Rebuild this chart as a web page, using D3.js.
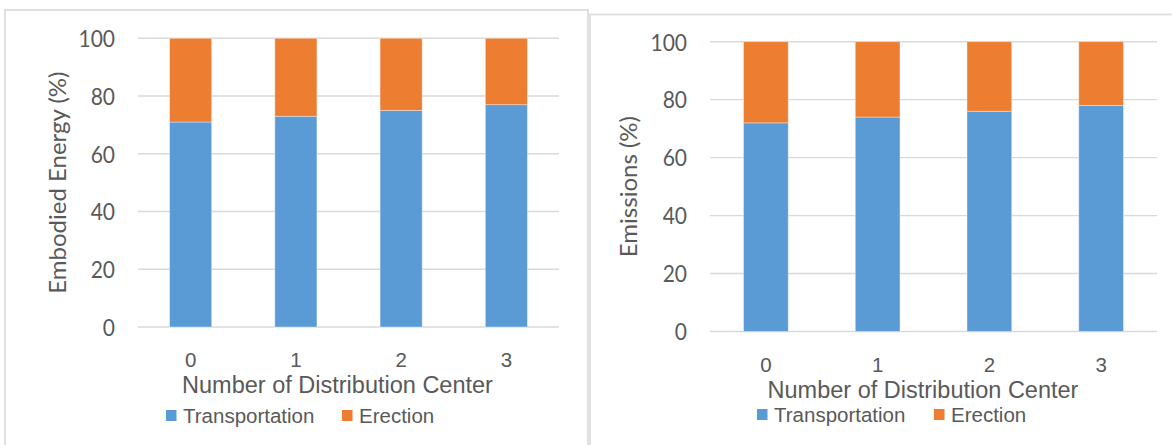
<!DOCTYPE html>
<html>
<head>
<meta charset="utf-8">
<script src="https://cdn.jsdelivr.net/npm/d3@7"></script>
<style>
  html, body { margin: 0; padding: 0; background: #fff; }
  svg { display: block; }
</style>
</head>
<body>
<svg id="chart" width="1172" height="445"></svg>
<script>
// Share of each life-cycle stage by number of distribution centres
const categories = ["0", "1", "2", "3"];
const seriesNames = ["Transportation", "Erection"];
const energyTransportation = [71, 73, 75, 77];
const energyErection = [29, 27, 25, 23];
const emissionsTransportation = [72, 74, 76, 78];
const emissionsErection = [28, 26, 24, 22];
const yTicks = [0, 20, 40, 60, 80, 100];
const xTitle = "Number of Distribution Center";

const colors = ["#5b9bd5", "#ed7d31"];
const textColor = "#595959";
const gridColor = "#d9d9d9";
const yTickStretch = 1.1; // value labels are drawn slightly tall

const svg = d3.select("#chart");

function drawPanel(p) {
  const g = svg.append("g");

  // panel frame
  g.append("rect")
    .attr("x", p.frame[0]).attr("y", p.frame[1])
    .attr("width", p.frame[2]).attr("height", p.frame[3])
    .attr("fill", "#fff").attr("stroke", gridColor).attr("stroke-width", 1.6);

  const x = d3.scaleBand().domain(categories)
    .range([p.plot.x0, p.plot.x1]).paddingInner(0.6).paddingOuter(0.3);
  const y = d3.scaleLinear().domain([0, 100]).range([p.plot.y0, p.plot.y1]);

  // gridlines
  g.append("g").selectAll("line").data(yTicks).join("line")
    .attr("x1", p.plot.x0).attr("x2", p.plot.x1)
    .attr("y1", d => y(d)).attr("y2", d => y(d))
    .attr("stroke", gridColor).attr("stroke-width", 1.4);

  // y axis labels
  const yAxis = d3.axisLeft(y).tickValues(yTicks).tickSize(0).tickPadding(0);
  const ya = g.append("g").attr("transform", `translate(${p.plot.x0 - 23},0)`).call(yAxis);
  ya.select(".domain").remove();
  ya.selectAll("text")
    .attr("fill", textColor).attr("font-family", "Lato, 'Open Sans', sans-serif")
    .attr("font-size", 21).attr("dy", "0.36em")
    .attr("transform", `scale(1,${yTickStretch})`);

  // stacked bars
  const rows = categories.map((c, i) => ({ cat: c, Transportation: p.values[0][i], Erection: p.values[1][i] }));
  const stacked = d3.stack().keys(seriesNames)(rows);
  g.append("g").selectAll("g").data(stacked).join("g")
    .attr("fill", (d, i) => colors[i])
    .selectAll("rect").data(d => d).join("rect")
    .attr("x", d => x(d.data.cat))
    .attr("width", x.bandwidth())
    .attr("y", d => y(d[1]))
    .attr("height", d => y(d[0]) - y(d[1]))
    .attr("stroke", "#ffffff").attr("stroke-opacity", 0.45).attr("stroke-width", 0.8);

  // x axis labels
  const xAxis = d3.axisBottom(x).tickSize(0).tickPadding(0);
  const xa = g.append("g").attr("transform", `translate(0,${p.xTickBaseline})`).call(xAxis);
  xa.select(".domain").remove();
  xa.selectAll("text")
    .attr("fill", textColor).attr("font-family", "'Liberation Sans', Arial, sans-serif")
    .attr("font-size", 20.5).attr("dy", 0);

  // axis titles
  g.append("text")
    .attr("x", p.xTitleX).attr("y", p.xTitleBaseline)
    .attr("text-anchor", "middle").attr("fill", textColor)
    .attr("font-family", "'Liberation Sans', Arial, sans-serif").attr("font-size", 23.5)
    .text(xTitle);

  g.append("text")
    .attr("transform", `translate(${p.yTitleX},${(p.plot.y0 + p.plot.y1) / 2}) rotate(-90)`)
    .attr("text-anchor", "middle").attr("fill", textColor)
    .attr("font-family", "Lato, 'Open Sans', sans-serif").attr("font-size", p.yTitleSize)
    .text(p.yTitle);

  // legend
  const lg = g.append("g").selectAll("g").data(seriesNames).join("g")
    .attr("transform", (d, i) => `translate(${p.legend[i]},${p.legendBaseline})`);
  lg.append("rect")
    .attr("x", 0).attr("y", -13).attr("width", 10.5).attr("height", 11)
    .attr("fill", (d, i) => colors[i]);
  lg.append("text")
    .attr("x", 17).attr("y", 0)
    .attr("fill", textColor).attr("font-family", "'Liberation Sans', Arial, sans-serif")
    .attr("font-size", 20.5)
    .text(d => d);
}

drawPanel({
  frame: [5, 10, 583, 460],
  plot: { x0: 138, x1: 559, y0: 327, y1: 38.3 },
  values: [energyTransportation, energyErection],
  yTitle: "Embodied Energy (%)",
  yTitleX: 66, yTitleSize: 24,
  xTickBaseline: 367,
  xTitleX: 337.5, xTitleBaseline: 393,
  legend: [166, 342], legendBaseline: 423
});

drawPanel({
  frame: [590, 14.5, 600, 460],
  plot: { x0: 710, x1: 1157, y0: 331.5, y1: 41.7 },
  values: [emissionsTransportation, emissionsErection],
  yTitle: "Emissions (%)",
  yTitleX: 637, yTitleSize: 24,
  xTickBaseline: 372,
  xTitleX: 923, xTitleBaseline: 398,
  legend: [757, 934], legendBaseline: 422
});
</script>
</body>
</html>
